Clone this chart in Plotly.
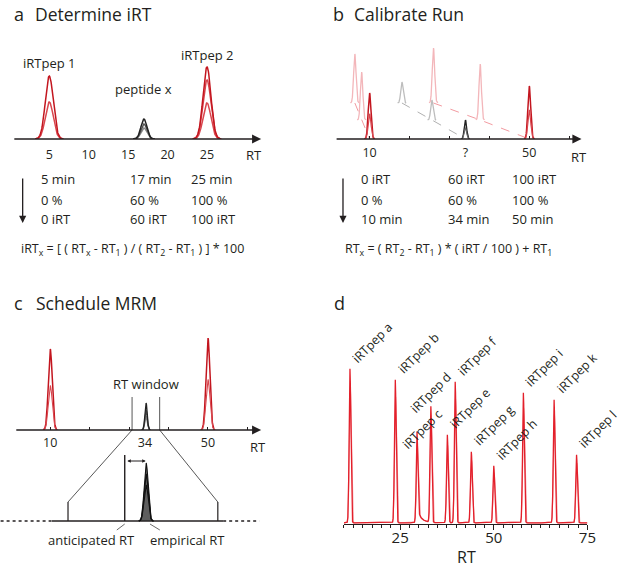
import numpy as np
import plotly.graph_objects as go

W, H = 625, 568
FONT = "Open Sans"
INK = "#231f20"
RED = "#c3161f"
RED2 = "#d9464e"
PINK = "#f3b6ba"
PINKD = "#f29aa0"
GREY = "#bdbdbd"
GREYD = "#b0b0b0"
DRED = "#e3202b"
DRED2 = "#f39aa0"

# ===================== data =====================
# panel a
a_ticks = [5, 10, 15, 20, 25]
a_peak_rt = [5, 17, 25]
a_peak_names = ["iRTpep 1", "peptide x", "iRTpep 2"]
a_pep1_h = [63, 37]
a_pepx_h = [20, 15, 11]
a_pep2_h = [72, 59, 36]
a_row_min = ["5 min", "17 min", "25 min"]
a_row_pct = ["0 %", "60 %", "100 %"]
a_row_irt = ["0 iRT", "60 iRT", "100 iRT"]

# panel b (three runs seen in perspective: back, middle, front)
b_tick_vals = [10, 34, 50]
b_tick_text = ["10", "?", "50"]
b_run_offset = [36, 19, 0]
b_irt1_rt = [6.3, 8.0, 10]
b_pepx_rt = [18.1, 25.6, 34]
b_irt2_rt = [26.0, 37.7, 50]
b_irt1_h = [49, 48, 46]
b_pepx_h = [21, 20, 19]
b_irt2_h = [55, 56, 53]
b_row_irt = ["0 iRT", "60 iRT", "100 iRT"]
b_row_pct = ["0 %", "60 %", "100 %"]
b_row_min = ["10 min", "34 min", "50 min"]

# panel c
c_tick_vals = [10, 34, 50]
c_irt_rt = [10, 50]
c_irt_h = [81, 92]
c_pepx_rt = 34.3
c_pepx_h = [27, 20, 14]
c_window = [30.75, 37.75]
c_window_h = 33
c_inset_solid = [30.0, 38.0]
c_inset_dotted = [27.6, 39.7]
c_inset_window_h = 19
c_anticipated = 33.4
c_anticipated_h = 66
c_empirical = 34.4
c_emp_h = [58, 47, 36]

# panel d
d_names = ["iRTpep a", "iRTpep b", "iRTpep c", "iRTpep d", "iRTpep e", "iRTpep f",
           "iRTpep g", "iRTpep h", "iRTpep i", "iRTpep k", "iRTpep l"]
d_rt = [11.6, 23.7, 29.5, 33.2, 37.6, 39.7, 44.0, 50.0, 57.9, 66.1, 72.1]
d_h = [154, 143, 77, 116, 88, 141, 71, 57, 130, 123, 68]
d_ticks = [25, 50, 75]
d_label_dx = [-4, -4, -21, -27, -4, -4, -4, -4, -4, -4, -4]
d_label_dy = [1, 1, -9, -11, 1, 1, 1, 1, 1, 1, 1]

# ===================== axes geometry (pixels -> paper) =====================
AX = {
    "a": dict(x="x", y="y", xpx=(13, 265), xr=(0.375, 31.875), ypx=(139, 39), yr=(0, 100)),
    "b": dict(x="x2", y="y2", xpx=(340, 590), xr=(10 - 35 / 4.05, 10 + 215 / 4.05), ypx=(139, 39), yr=(0, 100)),
    "c": dict(x="x3", y="y3", xpx=(15, 265), xr=(1, 63.5), ypx=(430, 330), yr=(0, 100)),
    "ci": dict(x="x4", y="y4", xpx=(0, 263), xr=(27.572, 39.684), ypx=(541, 441), yr=(-20, 80)),
    "d": dict(x="x5", y="y5", xpx=(349, 596), xr=(10, 75), ypx=(524, 324), yr=(0, 200)),
}


def px(xp):
    return xp / W


def py(yp):
    return 1 - yp / H


def to_paper(k, xv, yv):
    a = AX[k]
    fx = (xv - a["xr"][0]) / (a["xr"][1] - a["xr"][0])
    fy = (yv - a["yr"][0]) / (a["yr"][1] - a["yr"][0])
    return (px(a["xpx"][0]) + fx * (px(a["xpx"][1]) - px(a["xpx"][0])),
            py(a["ypx"][0]) + fy * (py(a["ypx"][1]) - py(a["ypx"][0])))


def gauss(x, mu, h, s):
    return h * np.exp(-0.5 * ((x - mu) / s) ** 2)


fig = go.Figure()


def peak(k, mu, h, s, color, width=1.5, base=0.0, fill=None):
    x = np.linspace(mu - 3.6 * s, mu + 3.6 * s, 90)
    tr = dict(x=x, y=base + gauss(x, mu, h, s), mode="lines",
              line=dict(color=color, width=width), xaxis=AX[k]["x"], yaxis=AX[k]["y"],
              hoverinfo="skip")
    if fill:
        tr.update(fill="tozeroy", fillcolor=fill)
    fig.add_trace(go.Scatter(**tr))


def seg(k, xs, ys, color, width=1.0, dash=None):
    fig.add_trace(go.Scatter(x=xs, y=ys, mode="lines", xaxis=AX[k]["x"], yaxis=AX[k]["y"],
                             line=dict(color=color, width=width, dash=dash), hoverinfo="skip"))


ann = []


def text(xp, yp, t, size=13, xanchor="left", **kw):
    ann.append(dict(x=px(xp), y=py(yp), xref="paper", yref="paper", text=t, showarrow=False,
                    xanchor=xanchor, yanchor="middle", font=dict(family=FONT, size=size, color=INK), **kw))


def axis_arrow(k, x0, x1):
    a = AX[k]
    ann.append(dict(x=x1, y=0, ax=x0, ay=0, xref=a["x"], yref=a["y"], axref=a["x"], ayref=a["y"],
                    text="", showarrow=True, arrowhead=2, arrowsize=1.3, arrowwidth=1.4,
                    arrowcolor=INK))


def down_arrow(xp, y0p, y1p):
    ann.append(dict(x=px(xp), y=py(y1p), xref="paper", yref="paper", ax=0, ay=-(y1p - y0p),
                    axref="pixel", ayref="pixel", text="", showarrow=True, arrowhead=2,
                    arrowsize=1.1, arrowwidth=1.3, arrowcolor=INK))


# ===================== panel a =====================
for h in sorted(a_pep1_h):
    peak("a", a_peak_rt[0], h, 0.5, RED if h == max(a_pep1_h) else RED2)
for i, h in enumerate(sorted(a_pepx_h)):
    peak("a", a_peak_rt[1], h, 0.38, ["#8a8a8a", "#555555", "#222222"][i])
for h in sorted(a_pep2_h):
    peak("a", a_peak_rt[2], h, 0.5, RED if h == max(a_pep2_h) else RED2)
axis_arrow("a", AX["a"]["xr"][0], AX["a"]["xr"][1])
lab_h = [max(a_pep1_h) + 13, max(a_pepx_h) + 30, max(a_pep2_h) + 12]
for rt, name, hh in zip(a_peak_rt, a_peak_names, lab_h):
    ann.append(dict(x=rt, y=hh, xref="x", yref="y", text=name, showarrow=False,
                    font=dict(family=FONT, size=13, color=INK), yanchor="middle"))
text(258, 155, "RT", 13, "center")

text(12, 14, "a", 18)
text(33, 14, "Determine iRT", 17.5)
for col, xp in enumerate([40, 130, 192]):
    text(xp, 179, a_row_min[col])
    text(xp, 200, a_row_pct[col])
    text(xp, 219, a_row_irt[col])
down_arrow(23, 177, 223)
text(19, 249, "iRT<sub>x</sub> = [ ( RT<sub>x</sub> - RT<sub>1</sub> ) / ( RT<sub>2</sub> - RT<sub>1</sub> ) ] * 100", 12.5)

# ===================== panel b =====================
seg("b", b_irt1_rt, b_run_offset, PINKD, 1, "dash")
seg("b", b_pepx_rt, b_run_offset, GREYD, 1, "dash")
seg("b", b_irt2_rt, b_run_offset, PINKD, 1, "dash")
for r in range(2):
    peak("b", b_irt1_rt[r], b_irt1_h[r], 0.3, PINK, 1.3, b_run_offset[r])
    peak("b", b_pepx_rt[r], b_pepx_h[r], 0.3, GREY, 1.3, b_run_offset[r])
    peak("b", b_irt2_rt[r], b_irt2_h[r], 0.3, PINK, 1.3, b_run_offset[r])
peak("b", b_irt1_rt[2], b_irt1_h[2], 0.35, RED, 1.5)
peak("b", b_irt1_rt[2], b_irt1_h[2] * 0.55, 0.35, RED2, 1.2)
peak("b", b_pepx_rt[2], b_pepx_h[2], 0.3, "#222222", 1.4)
peak("b", b_pepx_rt[2], b_pepx_h[2] * 0.6, 0.3, "#666666", 1.1)
peak("b", b_irt2_rt[2], b_irt2_h[2], 0.35, RED, 1.5)
peak("b", b_irt2_rt[2], b_irt2_h[2] * 0.55, 0.35, RED2, 1.2)
axis_arrow("b", AX["b"]["xr"][0], AX["b"]["xr"][1])
text(587, 157, "RT", 13, "center")

text(336, 14, "b", 18)
text(357, 14, "Calibrate Run", 17.5)
for col, xp in enumerate([364, 453, 517]):
    text(xp, 179, b_row_irt[col])
    text(xp, 200, b_row_pct[col])
    text(xp, 219, b_row_min[col])
down_arrow(348, 177, 223)
text(348, 250, "RT<sub>x</sub> = ( RT<sub>2</sub> - RT<sub>1</sub> ) * ( iRT / 100 ) + RT<sub>1</sub>", 12.5)

# ===================== panel c =====================
for rt, h in zip(c_irt_rt, c_irt_h):
    peak("c", rt, h, 0.5, RED, 1.5)
    peak("c", rt, h * 0.55, 0.5, RED2, 1.1)
for i, h in enumerate(sorted(c_pepx_h)):
    peak("c", c_pepx_rt, h, 0.3, ["#8a8a8a", "#555555", "#222222"][i], 1.3)
for wv in c_window:
    seg("c", [wv, wv], [0, c_window_h], "#444444", 0.9)
axis_arrow("c", AX["c"]["xr"][0], AX["c"]["xr"][1])
ann.append(dict(x=sum(c_window) / 2, y=c_window_h + 13, xref="x3", yref="y3", text="RT window",
                showarrow=False, font=dict(family=FONT, size=13, color=INK)))
text(262, 447, "RT", 13, "center")
text(12, 303, "c", 18)
text(34, 303, "Schedule MRM", 17.5)

# inset (zoom of the RT window)
seg("ci", [c_inset_dotted[0], c_inset_solid[0]], [0, 0], INK, 1.3, "dot")
seg("ci", [c_inset_solid[1], c_inset_dotted[1]], [0, 0], INK, 1.3, "dot")
seg("ci", c_inset_solid, [0, 0], INK, 1.3)
for wv in c_window:
    seg("ci", [wv, wv], [0, c_inset_window_h], INK, 1.2)
seg("ci", [c_anticipated, c_anticipated], [0, c_anticipated_h], INK, 1.4)
for i, h in enumerate(c_emp_h):
    peak("ci", c_empirical, h, 0.095, "#111111", 1.1, fill="rgba(40,40,40,0.75)" if i == 0 else None)
seg("ci", [c_anticipated, c_anticipated - 0.37], [-3, -9], "#444444", 0.8)
seg("ci", [c_empirical + 0.18, c_empirical + 0.64], [-3, -9], "#444444", 0.8)
ann.append(dict(x=c_empirical - 0.02, y=c_emp_h[0] + 2, ax=c_anticipated + 0.05, ay=c_emp_h[0] + 2,
                xref="x4", yref="y4", axref="x4", ayref="y4", text="", showarrow=True,
                arrowhead=2, arrowside="end+start", arrowsize=0.7, arrowwidth=1, arrowcolor=INK))
text(93, 540, "anticipated RT", 13, "center")
text(190, 540, "empirical RT", 13, "center")

shapes = []
for wv in c_window:
    x0, y0 = to_paper("c", wv, 0)
    x1, y1 = to_paper("ci", wv, c_inset_window_h)
    shapes.append(dict(type="line", xref="paper", yref="paper", x0=x0, y0=y0, x1=x1, y1=y1,
                       line=dict(color="#444444", width=0.9)))

# ===================== panel d =====================
xd = np.linspace(10, 75, 5000)
yd = np.full_like(xd, 1.2)
yd2 = np.full_like(xd, 1.2)
for rt, h in zip(d_rt, d_h):
    yd += gauss(xd, rt, h, 0.22)
    yd2 += gauss(xd, rt + 0.08, h * 0.88, 0.26)
# tailing of peak c
tail = np.where(xd > d_rt[2], 14 * np.exp(-(xd - d_rt[2]) / 1.1), 0) * (xd < d_rt[2] + 6)
yd += tail
yd2 += tail * 0.9
fig.add_trace(go.Scatter(x=xd, y=yd2, mode="lines", line=dict(color=DRED2, width=1.2),
                         xaxis="x5", yaxis="y5", hoverinfo="skip"))
fig.add_trace(go.Scatter(x=xd, y=yd, mode="lines", line=dict(color=DRED, width=1.3),
                         xaxis="x5", yaxis="y5", hoverinfo="skip"))
for name, rt, h, dx, dy in zip(d_names, d_rt, d_h, d_label_dx, d_label_dy):
    ann.append(dict(x=rt, y=h, xref="x5", yref="y5", text=name, showarrow=False, textangle=-45,
                    xanchor="left", yanchor="bottom", xshift=dx, yshift=dy,
                    font=dict(family=FONT, size=12.5, color=INK)))
text(473, 557, "RT", 16, "center")
text(337, 303, "d", 18)


# ===================== layout =====================
def xax(k, **kw):
    a = AX[k]
    d = dict(domain=[px(a["xpx"][0]), px(a["xpx"][1])], range=list(a["xr"]), showgrid=False,
             zeroline=False, showline=False, anchor=a["y"],
             tickfont=dict(family=FONT, size=12.5, color=INK), fixedrange=True)
    d.update(kw)
    return d


def yax(k):
    a = AX[k]
    return dict(domain=[py(a["ypx"][0]), py(a["ypx"][1])], range=list(a["yr"]), visible=False,
                anchor=a["x"], fixedrange=True)


fig.update_layout(
    width=W, height=H, margin=dict(l=0, r=0, t=0, b=0),
    paper_bgcolor="white", plot_bgcolor="rgba(0,0,0,0)", showlegend=False,
    font=dict(family=FONT, color=INK),
    xaxis=xax("a", tickvals=a_ticks, ticks="outside", ticklen=4, tickcolor="rgba(0,0,0,0)"),
    yaxis=yax("a"),
    xaxis2=xax("b", tickvals=b_tick_vals, ticktext=b_tick_text, ticks="outside", ticklen=2,
               tickcolor="rgba(0,0,0,0)",
               minor=dict(ticks="inside", ticklen=3, tickwidth=1, tickcolor=INK, dtick=10, tick0=0)),
    yaxis2=yax("b"),
    xaxis3=xax("c", tickvals=c_tick_vals, ticks="outside", ticklen=1, tickcolor="rgba(0,0,0,0)",
               minor=dict(ticks="inside", ticklen=3, tickwidth=1, tickcolor=INK, dtick=10, tick0=0)),
    yaxis3=yax("c"),
    xaxis4=xax("ci", visible=False),
    yaxis4=yax("ci"),
    xaxis5=xax("d", tickvals=d_ticks, ticks="outside", ticklen=5, tickwidth=1.2, tickcolor=INK,
               showline=True, linecolor=INK, linewidth=1.2, ticklabelstandoff=-5,
               tickfont=dict(family=FONT, size=15, color=INK),
               minor=dict(ticks="outside", ticklen=3, tickwidth=1, tickcolor=INK, dtick=2.5, tick0=0)),
    yaxis5=yax("d"),
    annotations=ann, shapes=shapes,
)

fig.write_html("out.html", config={"displayModeBar": False},
               post_script="document.body.style.margin='0px';document.body.style.overflow='hidden';")
